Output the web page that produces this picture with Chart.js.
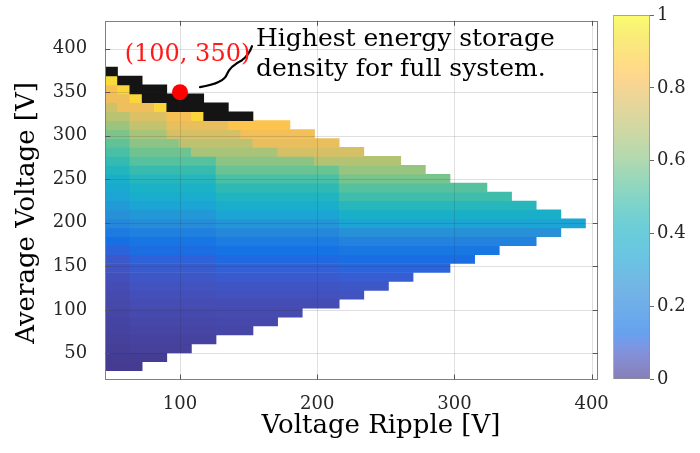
<!DOCTYPE html>
<html>
<head>
<meta charset="utf-8">
<script src="https://cdn.jsdelivr.net/npm/chart.js@4.4.0/dist/chart.umd.min.js"></script>
<style>
html,body{margin:0;padding:0;background:#fff;}
#wrap{position:relative;width:700px;height:453px;overflow:hidden;}
#main{position:absolute;left:0;top:0;}
#cbar{position:absolute;left:600px;top:0;}
</style>
</head>
<body>
<div id="wrap">
<canvas id="main" width="700" height="453"></canvas>
<canvas id="cbar" width="100" height="453"></canvas>
</div>
<script>
// ---------- DATA ----------
// column centres: voltage ripple [V]
const rippleCenters = [50.00, 58.97, 67.95, 76.92, 85.90, 94.87, 103.85, 112.82, 121.79, 130.77,
  139.74, 148.72, 157.69, 166.67, 175.64, 184.62, 193.59, 202.56, 211.54, 220.51,
  229.49, 238.46, 247.44, 256.41, 265.38, 274.36, 283.33, 292.31, 301.28, 310.26,
  319.23, 328.21, 337.18, 346.15, 355.13, 364.10, 373.08, 382.05, 391.03];
// row centres: average voltage [V] (row 1 .. row 34)
const avgVoltage = [35.26, 45.51, 55.77, 66.03, 76.28, 86.54, 96.79, 107.05, 117.31, 127.56,
  137.82, 148.08, 158.33, 168.59, 178.85, 189.10, 199.36, 209.62, 219.87, 230.13,
  240.38, 250.64, 260.90, 271.15, 281.41, 291.67, 301.92, 312.18, 322.44, 332.69,
  342.95, 353.21, 363.46, 373.72];
// normalised energy storage density, per row: runs of [first column, last column, value]
const rowRuns = [
  [[0,2,0.0]],
  [[0,4,0.005]],
  [[0,1,0.01],[2,6,0.015]],
  [[0,1,0.015],[2,8,0.02]],
  [[0,1,0.02],[2,8,0.027],[9,11,0.03]],
  [[0,1,0.025],[2,8,0.033],[9,13,0.036]],
  [[0,1,0.03],[2,8,0.04],[9,15,0.043]],
  [[0,1,0.035],[2,8,0.047],[9,18,0.05]],
  [[0,1,0.042],[2,8,0.055],[9,18,0.06],[19,20,0.063]],
  [[0,1,0.05],[2,8,0.064],[9,18,0.07],[19,22,0.074]],
  [[0,1,0.058],[2,8,0.074],[9,18,0.082],[19,24,0.088]],
  [[0,1,0.068],[2,8,0.086],[9,18,0.096],[19,27,0.104]],
  [[0,1,0.08],[2,8,0.10],[9,18,0.115],[19,29,0.125]],
  [[0,1,0.10],[2,8,0.12],[9,18,0.14],[19,31,0.155]],
  [[0,1,0.13],[2,8,0.15],[9,18,0.175],[19,34,0.20]],
  [[0,1,0.17],[2,8,0.19],[9,18,0.22],[19,36,0.26]],
  [[0,1,0.22],[2,8,0.245],[9,18,0.28],[19,38,0.33]],
  [[0,1,0.26],[2,8,0.29],[9,18,0.33],[19,36,0.39]],
  [[0,1,0.30],[2,8,0.33],[9,18,0.38],[19,34,0.44]],
  [[0,1,0.33],[2,8,0.37],[9,18,0.42],[19,32,0.49]],
  [[0,1,0.36],[2,8,0.40],[9,18,0.46],[19,30,0.53]],
  [[0,1,0.39],[2,8,0.44],[9,18,0.51],[19,27,0.58]],
  [[0,1,0.43],[2,8,0.48],[9,18,0.56],[19,25,0.63]],
  [[0,1,0.47],[2,8,0.53],[9,16,0.61],[17,23,0.68]],
  [[0,1,0.51],[2,6,0.57],[7,13,0.66],[14,20,0.75]],
  [[0,1,0.55],[2,5,0.61],[6,11,0.70],[12,18,0.79]],
  [[0,1,0.59],[2,4,0.66],[5,10,0.75],[11,16,0.81]],
  [[0,1,0.64],[2,4,0.71],[5,9,0.79],[10,14,0.84]],
  [[0,1,0.69],[2,4,0.76],[5,6,0.82],[7,7,0.90]],
  [[0,0,0.73],[1,3,0.80],[4,4,0.90]],
  [[0,1,0.80],[2,2,0.90]],
  [[0,0,0.82],[1,1,0.90]],
  [[0,0,0.92]],
  []
];
// highest-density cells (shown black): [row number, first column, last column]
const peakRuns = [[29,8,11],[30,5,9],[31,3,7],[32,2,4],[33,1,2],[34,0,0]];
// marked optimum
const optRipple = [100];
const optVoltage = [350];
const optLabel = '(100, 350)';
const noteLines = ['Highest energy storage', 'density for full system.'];
const xTitle = 'Voltage Ripple [V]';
const yTitle = 'Average Voltage [V]';
const xTickValues = [100, 200, 300, 400];
const yTickValues = [50, 100, 150, 200, 250, 300, 350, 400];
const cbarTickValues = [0, 0.2, 0.4, 0.6, 0.8, 1];

// ---------- STYLE ----------
const PARULA = [
[0.2081,0.1663,0.5292],[0.2116,0.1898,0.5777],[0.2123,0.2138,0.6270],[0.2081,0.2386,0.6771],
[0.1959,0.2645,0.7279],[0.1707,0.2919,0.7792],[0.1253,0.3242,0.8303],[0.0591,0.3598,0.8683],
[0.0117,0.3875,0.8820],[0.0060,0.4086,0.8828],[0.0165,0.4266,0.8786],[0.0329,0.4430,0.8720],
[0.0498,0.4586,0.8641],[0.0629,0.4737,0.8554],[0.0723,0.4887,0.8467],[0.0779,0.5040,0.8384],
[0.0793,0.5200,0.8312],[0.0749,0.5375,0.8263],[0.0641,0.5570,0.8240],[0.0488,0.5772,0.8228],
[0.0343,0.5966,0.8199],[0.0265,0.6137,0.8135],[0.0239,0.6287,0.8038],[0.0231,0.6418,0.7913],
[0.0228,0.6535,0.7768],[0.0267,0.6642,0.7607],[0.0384,0.6743,0.7436],[0.0590,0.6838,0.7254],
[0.0843,0.6928,0.7062],[0.1133,0.7015,0.6859],[0.1453,0.7098,0.6646],[0.1801,0.7177,0.6424],
[0.2178,0.7250,0.6193],[0.2586,0.7317,0.5954],[0.3022,0.7376,0.5712],[0.3482,0.7424,0.5473],
[0.3953,0.7459,0.5244],[0.4420,0.7481,0.5033],[0.4871,0.7491,0.4840],[0.5300,0.7491,0.4661],
[0.5709,0.7485,0.4494],[0.6099,0.7473,0.4337],[0.6473,0.7456,0.4188],[0.6834,0.7435,0.4044],
[0.7184,0.7411,0.3905],[0.7525,0.7384,0.3768],[0.7858,0.7356,0.3633],[0.8185,0.7327,0.3498],
[0.8507,0.7299,0.3360],[0.8824,0.7274,0.3217],[0.9139,0.7258,0.3063],[0.9450,0.7261,0.2886],
[0.9739,0.7314,0.2666],[0.9938,0.7455,0.2403],[0.9990,0.7653,0.2164],[0.9955,0.7861,0.1967],
[0.9880,0.8066,0.1794],[0.9789,0.8271,0.1633],[0.9697,0.8481,0.1475],[0.9626,0.8705,0.1309],
[0.9589,0.8949,0.1132],[0.9598,0.9218,0.0948],[0.9661,0.9514,0.0755],[0.9763,0.9831,0.0538]];
function parulaRGB(v) {
  v = Math.max(0, Math.min(1, v));
  const p = v * 63, i = Math.min(62, Math.floor(p)), f = p - i;
  const a = PARULA[i], b = PARULA[i + 1];
  return [0,1,2].map(c => 255 * (a[c] + (b[c] - a[c]) * f));
}
function rgbStr(c, wash) {
  const w = wash || 0;
  return 'rgb(' + c.map(x => Math.round(x + (255 - x) * w)).join(',') + ')';
}
const SERIF = '"DejaVu Serif", serif';
const TEXT = '#262626';

// ---------- BUILD CELLS ----------
const half = (rippleCenters[1] - rippleCenters[0]) / 2;
const cellData = [], cellColors = [];
rowRuns.forEach((runs, r) => runs.forEach(([a, b, v]) => {
  cellData.push({ y: avgVoltage[r], x: [rippleCenters[a] - half, rippleCenters[b] + half] });
  cellColors.push(rgbStr(parulaRGB(v), 0.08));
}));
peakRuns.forEach(([row, a, b]) => {
  cellData.push({ y: avgVoltage[row - 1], x: [rippleCenters[a] - half, rippleCenters[b] + half] });
  cellColors.push('#141414');
});

const overlay = {
  id: 'overlay',
  afterDatasetDraw(chart, args) {
    if (args.meta.type !== 'bar') return;
    const { ctx, chartArea: a, scales: { x, y } } = chart;
    ctx.save();
    ctx.beginPath(); ctx.rect(a.left, a.top, a.right - a.left, a.bottom - a.top); ctx.clip();
    ctx.strokeStyle = 'rgba(38,38,38,0.15)'; ctx.lineWidth = 1;
    xTickValues.forEach(v => {
      const p = Math.round(x.getPixelForValue(v)) + 0.5;
      ctx.beginPath(); ctx.moveTo(p, a.top); ctx.lineTo(p, a.bottom); ctx.stroke();
    });
    yTickValues.forEach(v => {
      const p = Math.round(y.getPixelForValue(v)) + 0.5;
      ctx.beginPath(); ctx.moveTo(a.left, p); ctx.lineTo(a.right, p); ctx.stroke();
    });
    ctx.restore();
  },
  afterDraw(chart) {
    const { ctx, chartArea: a, scales: { x, y } } = chart;
    ctx.save();
    // frame
    ctx.strokeStyle = '#808080'; ctx.lineWidth = 1;
    ctx.strokeRect(Math.round(a.left) + 0.5, Math.round(a.top) + 0.5,
      Math.round(a.right - a.left) - 1, Math.round(a.bottom - a.top) - 1);
    // inward tick marks
    ctx.strokeStyle = '#555';
    const L = 5;
    xTickValues.forEach(v => {
      const p = Math.round(x.getPixelForValue(v)) + 0.5;
      ctx.beginPath();
      ctx.moveTo(p, a.bottom); ctx.lineTo(p, a.bottom - L);
      ctx.moveTo(p, a.top); ctx.lineTo(p, a.top + L);
      ctx.stroke();
    });
    yTickValues.forEach(v => {
      const p = Math.round(y.getPixelForValue(v)) + 0.5;
      ctx.beginPath();
      ctx.moveTo(a.left, p); ctx.lineTo(a.left + L, p);
      ctx.moveTo(a.right, p); ctx.lineTo(a.right - L, p);
      ctx.stroke();
    });
    // axis titles
    ctx.fillStyle = '#000';
    ctx.font = '26px ' + SERIF;
    ctx.textAlign = 'center'; ctx.textBaseline = 'alphabetic';
    ctx.fillText(xTitle, 381, 433);
    ctx.save();
    ctx.translate(34, 213); ctx.rotate(-Math.PI / 2);
    ctx.fillText(yTitle, 0, 0);
    ctx.restore();
    // annotation
    const ox = x.getPixelForValue(optRipple[0]), oy = y.getPixelForValue(optVoltage[0]);
    ctx.strokeStyle = '#000'; ctx.lineWidth = 2.2; ctx.lineCap = 'round';
    ctx.beginPath();
    ctx.moveTo(ox + 20, oy - 5);
    ctx.quadraticCurveTo(ox + 44, oy - 9, ox + 47, oy - 18);
    ctx.quadraticCurveTo(ox + 50, oy - 26, ox + 62, oy - 32);
    ctx.quadraticCurveTo(ox + 69, oy - 37, ox + 72, oy - 46);
    ctx.stroke();
    ctx.fillStyle = '#ff1a1a';
    ctx.font = '24px ' + SERIF;
    ctx.textAlign = 'center';
    ctx.fillText(optLabel, ox + 7.5, oy - 31);
    ctx.fillStyle = '#000';
    ctx.font = '25px ' + SERIF;
    ctx.textAlign = 'left';
    ctx.fillText(noteLines[0], 256, 46);
    ctx.fillText(noteLines[1], 256, 76);
    ctx.restore();
  }
};

const tickFont = { family: SERIF, size: 18 };

new Chart(document.getElementById('main'), {
  type: 'bar',
  data: {
    datasets: [
      {
        type: 'bar', indexAxis: 'y', data: cellData, backgroundColor: cellColors,
        borderWidth: 0, barPercentage: 1, categoryPercentage: 1, order: 1
      },
      {
        type: 'scatter', data: optRipple.map((r, i) => ({ x: r, y: optVoltage[i] })),
        pointRadius: 8, pointBackgroundColor: '#ff0000', pointBorderWidth: 0, order: 0
      }
    ]
  },
  options: {
    responsive: false, animation: false, events: [],
    layout: { padding: { left: 0, right: 102.2, top: 15, bottom: 0 } },
    plugins: { legend: { display: false }, tooltip: { enabled: false } },
    scales: {
      x: {
        type: 'linear', min: 45.5, max: 404.5, offset: false,
        afterFit: s => { s.height = 73.5; },
        afterBuildTicks: s => { s.ticks = xTickValues.map(v => ({ value: v })); },
        grid: { display: false }, border: { display: false },
        ticks: { padding: 6, font: tickFont, color: TEXT, maxRotation: 0 }
      },
      y: {
        type: 'linear', min: 20, max: 432, offset: false,
        afterFit: s => { s.width = 105.2; },
        afterBuildTicks: s => { s.ticks = yTickValues.map(v => ({ value: v })); },
        grid: { display: false }, border: { display: false },
        ticks: { padding: 10, font: tickFont, color: TEXT }
      }
    }
  },
  plugins: [overlay]
});

// ---------- COLORBAR ----------
new Chart(document.getElementById('cbar'), {
  type: 'bar',
  data: {
    labels: [''],
    datasets: [{
      data: [[0, 1]],
      backgroundColor: (c) => {
        const a = c.chart.chartArea;
        if (!a) return '#ccc';
        const g = c.chart.ctx.createLinearGradient(0, a.bottom, 0, a.top);
        PARULA.forEach((col, i) => g.addColorStop(i / 63, rgbStr(col.map(z => z * 255), 0.4)));
        return g;
      },
      borderColor: '#8c8c8c', borderWidth: 1, borderSkipped: false,
      barPercentage: 1, categoryPercentage: 1
    }]
  },
  options: {
    responsive: false, animation: false, events: [],
    layout: { padding: { left: 13.3, right: 0, top: 15, bottom: 73.7 } },
    plugins: { legend: { display: false }, tooltip: { enabled: false } },
    scales: {
      x: { display: false, offset: true },
      y: {
        position: 'right', min: 0, max: 1,
        afterFit: s => { s.width = 50; },
        afterBuildTicks: s => { s.ticks = cbarTickValues.map(v => ({ value: v })); },
        grid: { drawOnChartArea: false, tickLength: 4, color: '#666' },
        border: { display: false },
        ticks: { padding: 3, font: tickFont, color: TEXT, callback: v => String(+v.toFixed(1)) }
      }
    }
  }
});
</script>
</body>
</html>
